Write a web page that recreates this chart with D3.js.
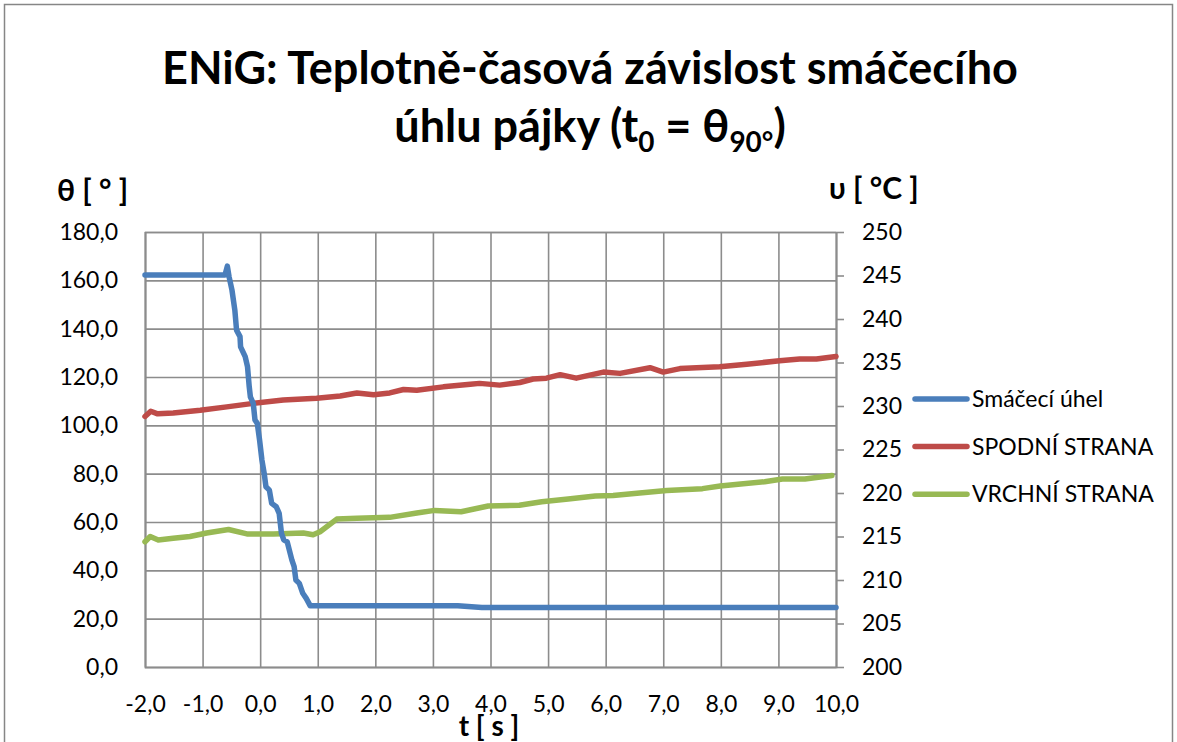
<!DOCTYPE html>
<html>
<head>
<meta charset="utf-8">
<script src="https://cdn.jsdelivr.net/npm/d3@7"></script>
<style>
  html, body { margin: 0; padding: 0; background: #fff; }
  svg { display: block; }
  text { font-family: Lato, "Open Sans", sans-serif; fill: #000; }
</style>
</head>
<body>
<svg id="chart" width="1177" height="742"></svg>
<script>
// Smáčecí úhel (wetting angle, left axis, degrees)
const angleTime = [-2.0, -0.61, -0.57, -0.54, -0.49, -0.44, -0.41, -0.35, -0.34, -0.26, -0.22, -0.19, -0.17, -0.12, -0.09, -0.05, -0.01, 0.03, 0.07, 0.10, 0.16, 0.20, 0.28, 0.33, 0.37, 0.41, 0.47, 0.55, 0.59, 0.62, 0.68, 0.74, 0.80, 0.87, 3.43, 3.85, 10.0];
const angleValues = [162.2, 162.2, 165.9, 161.5, 156.0, 147.7, 139.4, 136.7, 132.5, 128.4, 124.3, 116.0, 111.8, 109.1, 102.2, 100.8, 93.9, 85.7, 80.1, 74.6, 73.2, 67.7, 66.3, 63.6, 55.3, 52.6, 51.8, 44.3, 41.5, 36.0, 34.6, 30.5, 28.4, 25.3, 25.3, 24.6, 24.6];

// SPODNÍ STRANA (bottom side temperature, right axis, °C)
const bottomTime = [-2.0, -1.9, -1.78, -1.51, -1.04, -0.58, -0.12, 0.40, 0.98, 1.39, 1.68, 1.97, 2.25, 2.49, 2.72, 3.18, 3.65, 3.81, 4.16, 4.51, 4.74, 4.97, 5.21, 5.49, 5.96, 6.25, 6.77, 7.0, 7.29, 7.58, 7.98, 8.45, 9.02, 9.37, 9.66, 10.0];
const bottomValues = [228.8, 229.4, 229.1, 229.2, 229.5, 229.9, 230.3, 230.7, 230.9, 231.15, 231.5, 231.3, 231.5, 231.9, 231.8, 232.2, 232.5, 232.6, 232.4, 232.7, 233.1, 233.2, 233.6, 233.2, 233.9, 233.75, 234.4, 233.9, 234.3, 234.4, 234.5, 234.8, 235.2, 235.4, 235.4, 235.7];

// VRCHNÍ STRANA (top side temperature, right axis, °C)
const topTime = [-2.0, -1.91, -1.77, -1.51, -1.22, -0.93, -0.55, -0.23, 0.23, 0.75, 0.92, 1.04, 1.33, 1.68, 2.25, 2.72, 3.03, 3.49, 3.96, 4.50, 4.89, 5.35, 5.82, 6.13, 6.59, 7.06, 7.68, 7.99, 8.30, 8.76, 9.07, 9.46, 9.93];
const topValues = [214.4, 215.0, 214.6, 214.8, 215.0, 215.4, 215.8, 215.3, 215.3, 215.4, 215.2, 215.55, 217.0, 217.1, 217.2, 217.7, 218.0, 217.85, 218.5, 218.6, 219.0, 219.3, 219.65, 219.7, 220.0, 220.3, 220.5, 220.8, 221.0, 221.3, 221.6, 221.6, 222.0];

// Axis ticks
const timeTicks = [-2, -1, 0, 1, 2, 3, 4, 5, 6, 7, 8, 9, 10];
const angleTicks = [0, 20, 40, 60, 80, 100, 120, 140, 160, 180];
const tempTicks = [200, 205, 210, 215, 220, 225, 230, 235, 240, 245, 250];

const seriesNames = ["Smáčecí úhel", "SPODNÍ STRANA", "VRCHNÍ STRANA"];
const seriesColors = ["#4a7ebb", "#be4b48", "#98b954"];

const svg = d3.select("#chart");
const gridColor = "#8c8c8c";
const fmt1 = v => v.toFixed(1).replace(".", ",");

// Chart area border
svg.append("rect")
  .attr("x", 4.5).attr("y", 4.5)
  .attr("width", 1168).attr("height", 760)
  .attr("fill", "#fff").attr("stroke", "#868686").attr("stroke-width", 1.5);

const plot = { left: 145, right: 836, top: 232, bottom: 667 };

const x = d3.scaleLinear().domain([-2, 10]).range([plot.left, plot.right]);
const yL = d3.scaleLinear().domain([0, 180]).range([plot.bottom, plot.top]);
const yR = d3.scaleLinear().domain([200, 250]).range([plot.bottom, plot.top]);

// Horizontal gridlines + left labels
const gy = svg.append("g")
  .attr("transform", `translate(${plot.left},0)`)
  .call(d3.axisLeft(yL).tickValues(angleTicks).tickFormat(fmt1)
        .tickSize(-(plot.right - plot.left)).tickPadding(27));
gy.select(".domain").attr("stroke", gridColor).attr("stroke-width", 1.6);
gy.selectAll(".tick line").attr("stroke", gridColor).attr("stroke-width", 1.6);
gy.selectAll(".tick text").attr("font-size", 23).attr("font-family", "Lato").attr("fill", "#000");

// Vertical gridlines + bottom labels
const gx = svg.append("g")
  .attr("transform", `translate(0,${plot.bottom})`)
  .call(d3.axisBottom(x).tickValues(timeTicks).tickFormat(fmt1)
        .tickSize(-(plot.bottom - plot.top)).tickPadding(29));
gx.select(".domain").attr("stroke", gridColor).attr("stroke-width", 1.6);
gx.selectAll(".tick line").attr("stroke", gridColor).attr("stroke-width", 1.6);
gx.selectAll(".tick text").attr("font-size", 23).attr("font-family", "Lato").attr("fill", "#000");

// Right axis
const gr = svg.append("g")
  .attr("transform", `translate(${plot.right},0)`)
  .call(d3.axisRight(yR).tickValues(tempTicks).tickFormat(d3.format("d"))
        .tickSize(8).tickSizeOuter(0).tickPadding(18));
gr.select(".domain").attr("stroke", gridColor).attr("stroke-width", 1.6);
gr.selectAll(".tick line").attr("stroke", gridColor).attr("stroke-width", 1.6);
gr.selectAll(".tick text").attr("font-size", 23).attr("font-family", "Lato").attr("fill", "#000");

// Series lines
function drawSeries(times, values, yScale, color) {
  const pts = times.map((t, i) => [t, values[i]]);
  svg.append("path")
    .datum(pts)
    .attr("fill", "none")
    .attr("stroke", color)
    .attr("stroke-width", 5.5)
    .attr("stroke-linejoin", "round")
    .attr("stroke-linecap", "round")
    .attr("d", d3.line().x(d => x(d[0])).y(d => yScale(d[1])));
}
drawSeries(bottomTime, bottomValues, yR, seriesColors[1]);
drawSeries(topTime, topValues, yR, seriesColors[2]);
drawSeries(angleTime, angleValues, yL, seriesColors[0]);

// Legend
const legend = svg.append("g");
seriesNames.forEach((name, i) => {
  const ly = 399 + i * 47.6;
  legend.append("line")
    .attr("x1", 915).attr("x2", 967).attr("y1", ly).attr("y2", ly)
    .attr("stroke", seriesColors[i]).attr("stroke-width", 5.5).attr("stroke-linecap", "round");
  legend.append("text")
    .attr("x", 972).attr("y", ly + 8)
    .attr("font-size", 23)
    .text(name);
});

// Axis titles
svg.append("text").attr("x", 57).attr("y", 201)
  .attr("font-size", 30).attr("font-weight", "bold").text("θ [ ° ]");
svg.append("text").attr("x", 829).attr("y", 199)
  .attr("font-size", 30).attr("font-weight", "bold").text("υ [ °C ]");
svg.append("text").attr("x", 489).attr("y", 736).attr("text-anchor", "middle")
  .attr("font-size", 28).attr("font-weight", "bold").text("t [ s ]");

// Title
const titleSize = 45;
svg.append("text").attr("x", 590).attr("y", 84)
  .attr("text-anchor", "middle").attr("font-size", titleSize).attr("font-weight", "bold")
  .text("ENiG: Teplotně-časová závislost smáčecího");
const t2 = svg.append("text").attr("x", 590).attr("y", 142)
  .attr("text-anchor", "middle").attr("font-size", titleSize).attr("font-weight", "bold");
t2.append("tspan").text("úhlu pájky (t");
t2.append("tspan").attr("font-size", titleSize * 0.62).attr("dy", 10).text("0");
t2.append("tspan").attr("dy", -10).text(" = θ");
t2.append("tspan").attr("font-size", titleSize * 0.62).attr("dy", 10).text("90°");
t2.append("tspan").attr("dy", -10).text(")");
</script>
</body>
</html>
